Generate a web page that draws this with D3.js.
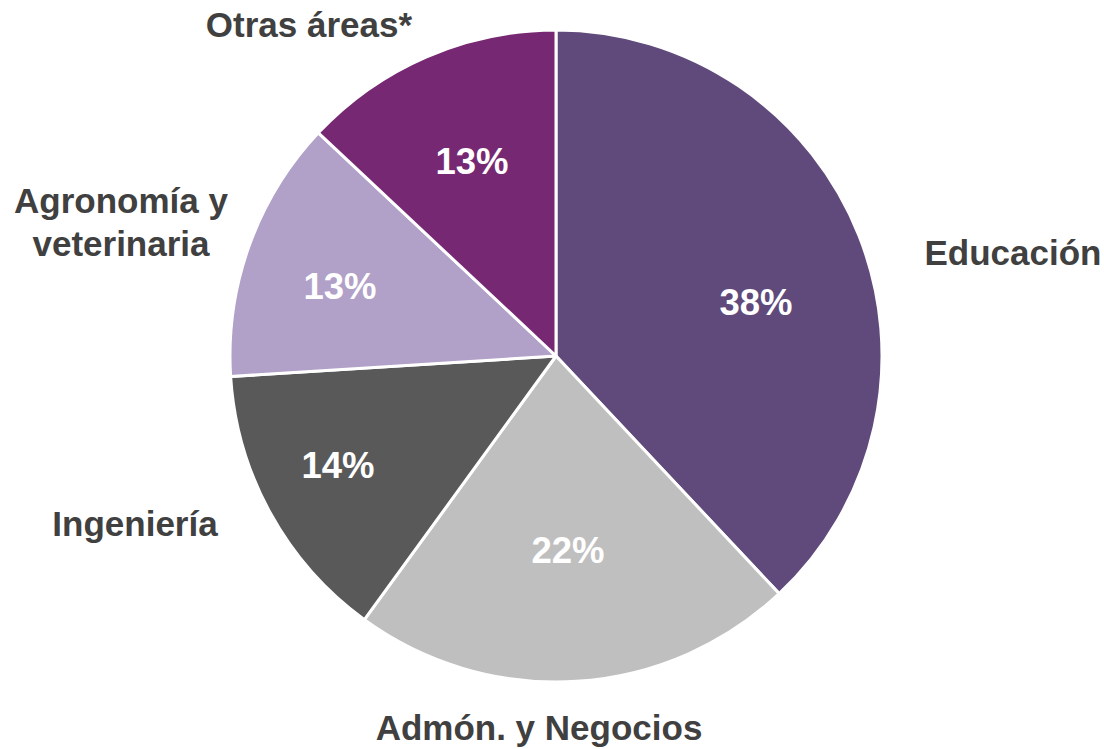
<!DOCTYPE html>
<html>
<head>
<meta charset="utf-8">
<script src="https://cdn.jsdelivr.net/npm/d3@7"></script>
<style>
html,body{margin:0;padding:0;background:#fff;}
svg{display:block;}
text{font-family:"Liberation Sans",Arial,sans-serif;font-weight:bold;}
</style>
</head>
<body>
<svg id="chart" width="1104" height="749"></svg>
<script>
const categories = ["Educación", "Admón. y Negocios", "Ingeniería", "Agronomía y veterinaria", "Otras áreas*"];
const values = [38, 22, 14, 13, 13];
const valueLabels = ["38%", "22%", "14%", "13%", "13%"];
const colors = ["#5f4a7b", "#bfbfbf", "#595959", "#b1a0c7", "#772873"];

// layout (label placement), kept separate from data
const catLabelLines = [["Educación"], ["Admón. y Negocios"], ["Ingeniería"], ["Agronomía y", "veterinaria"], ["Otras áreas*"]];
const catLabelPos = [[1013, 265], [539, 740], [135, 536], [121, 213], [309, 37]];
const pctLabelPos = [[756, 315], [568, 563], [338, 478], [340, 299], [472, 174]];

const W = 1104, H = 749;
const cx = 556, cy = 356, R = 326;
const svg = d3.select("#chart");
const g = svg.append("g").attr("transform", `translate(${cx},${cy})`);

const pie = d3.pie().sort(null).value(d => d)(values);
const arc = d3.arc().innerRadius(0).outerRadius(R);

g.selectAll("path.slice").data(pie).join("path")
  .attr("class", "slice")
  .attr("d", arc)
  .attr("fill", (d, i) => colors[i])
  .attr("stroke", "#fff")
  .attr("stroke-width", 3)
  .attr("stroke-linejoin", "round");

svg.selectAll("text.pct").data(pie).join("text")
  .attr("class", "pct")
  .attr("x", (d, i) => pctLabelPos[i][0])
  .attr("y", (d, i) => pctLabelPos[i][1])
  .attr("text-anchor", "middle")
  .attr("fill", "#fff")
  .attr("font-size", 36.5)
  .text((d, i) => valueLabels[i]);

categories.forEach((c, i) => {
  const t = svg.append("text")
    .attr("class", "cat")
    .attr("text-anchor", "middle")
    .attr("fill", "#404040")
    .attr("font-size", 35)
    .attr("x", catLabelPos[i][0])
    .attr("y", catLabelPos[i][1]);
  catLabelLines[i].forEach((line, j) => {
    t.append("tspan").attr("x", catLabelPos[i][0]).attr("dy", j === 0 ? 0 : 43).text(line);
  });
});
</script>
</body>
</html>
